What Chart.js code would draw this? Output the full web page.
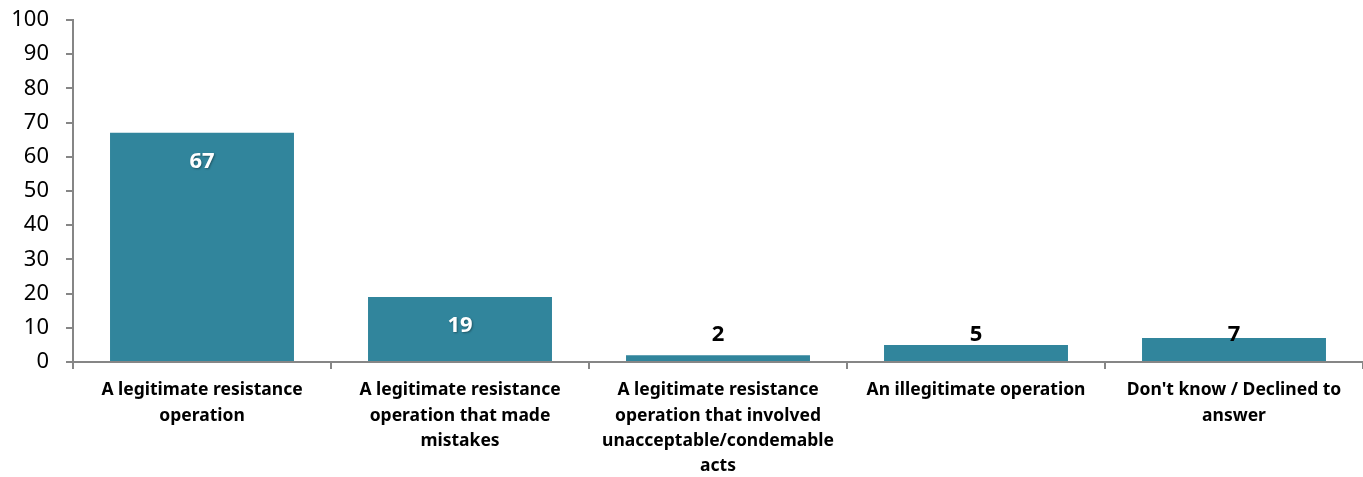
<!DOCTYPE html>
<html>
<head>
<meta charset="utf-8">
<script src="https://cdn.jsdelivr.net/npm/chart.js@4"></script>
<style>
  html, body { margin: 0; padding: 0; background: #ffffff; }
  #wrap { width: 1363px; height: 477px; }
</style>
</head>
<body>
<div id="wrap"><canvas id="chart" width="1363" height="477"></canvas></div>
<script>
// categories and values
const categories = [
    ['A legitimate resistance', 'operation'],
    ['A legitimate resistance', 'operation that made', 'mistakes'],
    ['A legitimate resistance', 'operation that involved', 'unacceptable/condemable', 'acts'],
    'An illegitimate operation',
    ["Don't know / Declined to", 'answer']
];
const values = [67, 19, 2, 5, 7];
const yTicks = [0, 10, 20, 30, 40, 50, 60, 70, 80, 90, 100];

const barColor = '#31859C';
const axisColor = '#868686';

// value labels: inside the top of the bar when it fits, else just above the axis
const valueLabels = {
    id: 'valueLabels',
    afterDatasetsDraw(chart) {
        const ctx = chart.ctx;
        const meta = chart.getDatasetMeta(0);
        const zeroY = chart.scales.y.getPixelForValue(0);
        ctx.save();
        ctx.font = 'bold 22px "Noto Sans"';
        ctx.textAlign = 'center';
        ctx.textBaseline = 'middle';
        meta.data.forEach((bar, i) => {
            let y = bar.y + 29;
            let inside = true;
            if (y > zeroY - 27) {
                y = zeroY - 27;
                inside = false;
            }
            if (inside) {
                ctx.shadowColor = 'rgba(0,0,0,0.35)';
                ctx.shadowOffsetX = 1;
                ctx.shadowOffsetY = 1;
                ctx.shadowBlur = 2;
                ctx.fillStyle = '#ffffff';
            } else {
                ctx.shadowColor = 'transparent';
                ctx.fillStyle = '#000000';
            }
            ctx.fillText(String(values[i]), bar.x, y);
        });
        ctx.restore();
    }
};

new Chart(document.getElementById('chart'), {
    type: 'bar',
    data: {
        labels: categories,
        datasets: [{
            data: values,
            backgroundColor: barColor,
            borderWidth: 0,
            barPercentage: 0.713,
            categoryPercentage: 1
        }]
    },
    options: {
        responsive: false,
        animation: false,
        layout: { padding: { top: 20, right: 0, left: 0, bottom: 0 } },
        plugins: {
            legend: { display: false },
            tooltip: { enabled: false }
        },
        scales: {
            x: {
                offset: true,
                grid: {
                    offset: true,
                    drawOnChartArea: false,
                    drawTicks: true,
                    tickLength: 7,
                    color: axisColor,
                    lineWidth: 2
                },
                border: { color: axisColor, width: 2 },
                ticks: {
                    color: '#000000',
                    padding: 9,
                    maxRotation: 0,
                    autoSkip: false,
                    font: { family: '"Noto Sans"', size: 17.5, weight: 'bold', lineHeight: 1.43 }
                },
                afterFit(scale) { scale.height = 115; }
            },
            y: {
                min: 0,
                max: 100,
                afterBuildTicks(scale) { scale.ticks = yTicks.map(v => ({ value: v })); },
                grid: {
                    drawOnChartArea: false,
                    drawTicks: true,
                    tickLength: 7,
                    color: axisColor,
                    lineWidth: 2
                },
                border: { color: axisColor, width: 2 },
                ticks: {
                    color: '#000000',
                    padding: 17,
                    font: { family: '"Noto Sans"', size: 22 }
                },
                afterFit(scale) {
                    scale.width = 73;
                    scale.paddingTop = 0;
                    scale.paddingBottom = 0;
                }
            }
        }
    },
    plugins: [valueLabels]
});
</script>
</body>
</html>
